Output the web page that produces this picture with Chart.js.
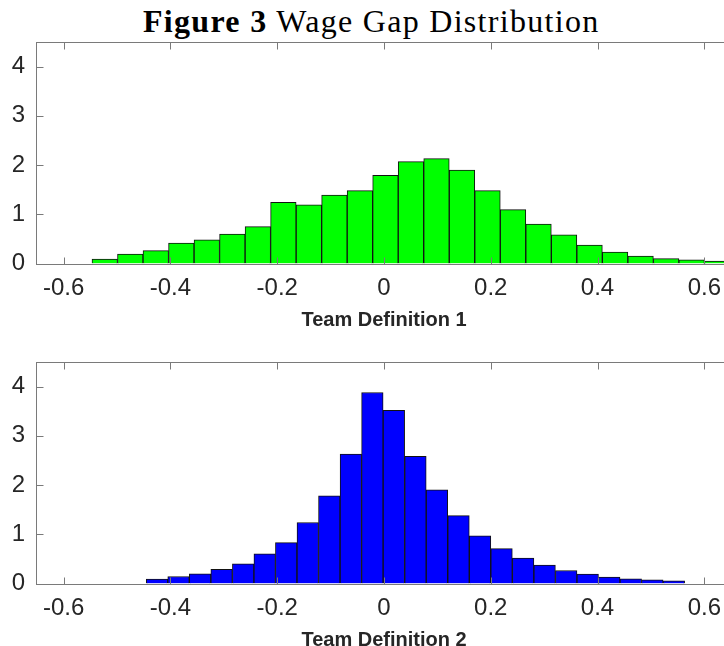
<!DOCTYPE html>
<html>
<head>
<meta charset="utf-8">
<script src="https://cdn.jsdelivr.net/npm/chart.js@4.4.1/dist/chart.umd.min.js"></script>
<style>
  html, body { margin: 0; padding: 0; background: #fff; }
  #wrap { position: relative; width: 724px; height: 646px; overflow: hidden; }
  #title {
    position: absolute; left: 143px; top: 5px;
    font-family: 'Liberation Serif', serif; font-size: 32px; line-height: 32px;
    letter-spacing: 1.3px; color: #000; white-space: nowrap;
  }
  canvas { position: absolute; left: 0; }
</style>
</head>
<body>
<div id="wrap">
  <div id="title"><b>Figure 3</b> Wage Gap Distribution</div>
  <canvas id="histTop" width="740" height="332" style="top:0"></canvas>
  <canvas id="histBottom" width="740" height="332" style="top:320px"></canvas>
</div>
<script>
/* ── data ── */
const xTicks = [-0.6, -0.4, -0.2, 0, 0.2, 0.4, 0.6];
const yTicks = [0, 1, 2, 3, 4];

// Team Definition 1 — bin centres and density
const def1Centers = [-0.5231, -0.4753, -0.4275, -0.3797, -0.3319, -0.2841, -0.2363, -0.1885, -0.1407, -0.0929,
                     -0.0451,  0.0027,  0.0505,  0.0983,  0.1461,  0.1939,  0.2417,  0.2895,  0.3373,  0.3851,
                      0.4329,  0.4807,  0.5285,  0.5763,  0.6241];
const def1Density = [0.09, 0.19, 0.26, 0.415, 0.48, 0.60, 0.75, 1.245, 1.19, 1.39,
                     1.48, 1.79, 2.07, 2.13, 1.90, 1.48, 1.095, 0.80, 0.58, 0.375,
                     0.23, 0.15, 0.10, 0.075, 0.05];

// Team Definition 2 — bin centres and density
const def2Centers = [-0.4252, -0.3849, -0.3445, -0.3042, -0.2638, -0.2235, -0.1832, -0.1428, -0.1025, -0.0621,
                     -0.0218,  0.0185,  0.0589,  0.0992,  0.1396,  0.1799,  0.2202,  0.2606,  0.3009,  0.3413,
                      0.3816,  0.4219,  0.4623,  0.5026,  0.5430];
const def2Density = [0.088, 0.143, 0.197, 0.29, 0.40, 0.605, 0.83, 1.24, 1.78, 2.63,
                     3.88, 3.52, 2.585, 1.905, 1.38, 0.967, 0.708, 0.517, 0.374, 0.265,
                     0.19, 0.13, 0.095, 0.075, 0.055];

const TEXT = '#262626';
const SANS = "'Liberation Sans', Arial, sans-serif";

/* ── MATLAB-style box with inward ticks ── */
const axesBox = {
    id: 'axesBox',
    afterDraw(chart) {
        const { ctx, chartArea: a, scales: { x, y } } = chart;
        const L = Math.floor(a.left) - 0.5, R = Math.round(a.right) + 0.5;
        const T = Math.floor(a.top) + 0.5,  B = Math.round(a.bottom) + 0.5;
        ctx.save();
        ctx.strokeStyle = '#7a7a7a';
        ctx.lineWidth = 1;
        ctx.strokeRect(L, T, R - L, B - T);
        ctx.beginPath();
        x.ticks.forEach(t => {
            const px = Math.round(x.getPixelForValue(t.value)) + 0.5;
            ctx.moveTo(px, B); ctx.lineTo(px, B - 7);
            ctx.moveTo(px, T); ctx.lineTo(px, T + 7);
        });
        y.ticks.forEach(t => {
            const py = Math.round(y.getPixelForValue(t.value)) + 0.5;
            ctx.moveTo(L, py); ctx.lineTo(L + 7, py);
            ctx.moveTo(R, py); ctx.lineTo(R - 7, py);
        });
        ctx.stroke();
        ctx.restore();
    }
};

function makeHist(id, centers, density, color, label) {
    return new Chart(document.getElementById(id), {
        type: 'bar',
        data: {
            datasets: [{
                data: centers.map((c, i) => ({ x: c, y: density[i] })),
                backgroundColor: color,
                borderColor: '#111',
                borderWidth: 1,
                borderSkipped: 'start',
                barPercentage: 1,
                categoryPercentage: 1
            }]
        },
        options: {
            responsive: false,
            animation: false,
            devicePixelRatio: 1,
            layout: { padding: { top: 42, right: 9, left: 0, bottom: 0 } },
            plugins: { legend: { display: false }, tooltip: { enabled: false } },
            scales: {
                x: {
                    type: 'linear', min: -0.65, max: 0.65, offset: false,
                    grid: { display: false, drawTicks: false },
                    border: { display: false },
                    afterBuildTicks: s => { s.ticks = xTicks.map(v => ({ value: v })); },
                    afterFit: s => { s.height = 68.5; },
                    ticks: { padding: 10, maxRotation: 0, autoSkip: false, color: TEXT,
                             font: { family: SANS, size: 24 }, callback: v => String(v) },
                    title: { display: true, text: label, color: TEXT, padding: 0,
                             font: { family: SANS, size: 20, weight: 'bold' } }
                },
                y: {
                    min: 0, max: 4.5,
                    grid: { display: false, drawTicks: false },
                    border: { display: false },
                    afterBuildTicks: s => { s.ticks = yTicks.map(v => ({ value: v })); },
                    afterFit: s => { s.width = 37; },
                    ticks: { padding: 12, color: TEXT, font: { family: SANS, size: 24 } }
                }
            }
        },
        plugins: [axesBox]
    });
}

makeHist('histTop',    def1Centers, def1Density, '#00ff00', 'Team Definition 1');
makeHist('histBottom', def2Centers, def2Density, '#0000ff', 'Team Definition 2');
</script>
</body>
</html>
